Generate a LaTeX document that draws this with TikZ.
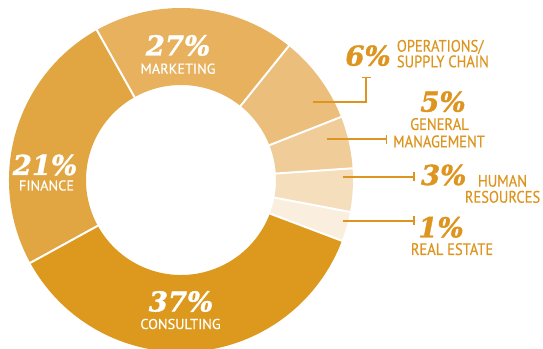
\documentclass[tikz,border=0pt]{standalone}
\usepackage{fontspec}
\usetikzlibrary{arrows.meta}
\newfontfamily\pctfont[FakeBold=1.2]{DejaVu Serif}
\newfontfamily\lblfont[FakeBold=0.4]{PT Sans}
\newfontfamily\olblfont[FakeStretch=0.87,FakeBold=0.4]{PT Sans}
\definecolor{consult}{HTML}{DC991D}
\definecolor{finance}{HTML}{E1A641}
\definecolor{market}{HTML}{E7B15D}
\definecolor{opsc}{HTML}{EBBE7C}
\definecolor{gmc}{HTML}{F0CC99}
\definecolor{hrc}{HTML}{F5DEBB}
\definecolor{rec}{HTML}{FAEEDF}
\definecolor{ink}{HTML}{DD9520}
\tikzset{
  pct/.style={inner sep=0pt, anchor=base, text depth=0pt, font=\pctfont\bfseries\itshape\fontsize{27.5}{27.5}\selectfont},
  inlbl/.style={inner sep=0pt, anchor=base, text depth=0pt, text=white, font=\lblfont\fontsize{14.3}{14.3}\selectfont},
  outlbl/.style={inner sep=0pt, anchor=base, text depth=0pt, text=ink, font=\olblfont\fontsize{16.7}{16.7}\selectfont},
  leader/.style={draw=ink, line width=1.7pt},
  barend/.style={leader, -{Bar[width=9pt,line width=1.7pt]}},
  gap/.style={draw=white, line width=2pt},
}
\newcommand{\ringseg}[3]{%
  \fill[#3] (#1:95pt) -- (#1:172pt) arc[start angle=#1, end angle=#2, radius=172pt]
    -- (#2:95pt) arc[start angle=#2, end angle=#1, radius=95pt] -- cycle;}
\begin{document}
\begin{tikzpicture}[x=1pt,y=1pt]
\useasboundingbox (0,0) rectangle (543,348);
\clip (0,0) rectangle (543,348);
\begin{scope}[shift={(181,168)}]
  \ringseg{51.2}{119.3}{market}
  \ringseg{119.3}{208.8}{finance}
  \ringseg{208.8}{339.3}{consult}
  \ringseg{339.3}{349.3}{rec}
  \ringseg{349.3}{363.9}{hrc}
  \ringseg{3.9}{21.5}{gmc}
  \ringseg{21.5}{51.2}{opsc}
  \foreach \a in {51.2,119.3,208.8,339.3,349.3,3.9,21.5}
    \draw[gap] (\a:93pt) -- (\a:175pt);
\end{scope}
% inner labels
\node[pct, text=white] (p27) at (178,292.5) {27\%};
\node[inlbl] (lmk) at (178,274.3) {MARKETING};
\node[pct, text=white] (p21) at (45,173) {21\%};
\node[inlbl] (lfi) at (46.5,157.5) {FINANCE};
\node[pct, text=white] (p37) at (181,36.5) {37\%};
\node[inlbl] (lco) at (180.5,19) {CONSULTING};
% outer labels
\node[pct, text=ink] (p6) at (368,282.3) {6\%};
\node[outlbl, anchor=base west] (lop1) at (396.7,296.3) {OPERATIONS/};
\node[outlbl, anchor=base west] (lop2) at (396.7,280.7) {SUPPLY CHAIN};
\node[pct, text=ink] (p5) at (443,236.3) {5\%};
\node[outlbl] (lgm1) at (439.5,218) {GENERAL};
\node[outlbl] (lgm2) at (439,200.7) {MANAGEMENT};
\node[pct, text=ink] (p3) at (443.7,163) {3\%};
\node[outlbl] (lhr1) at (502.5,161.3) {HUMAN};
\node[outlbl] (lhr2) at (502.5,145.3) {RESOURCES};
\node[pct, text=ink] (p1) at (441,110.7) {1\%};
\node[outlbl] (lre) at (452,93) {REAL ESTATE};
% leaders
\coordinate (sop) at (313,246.3);
\coordinate (eop) at (366,271.3);
\coordinate (sgm) at (326.7,208.7);
\coordinate (egm) at (387.3,208.7);
\coordinate (shr) at (342.7,171.3);
\coordinate (ehr) at (415,171.3);
\coordinate (sre) at (342.7,127.3);
\coordinate (ere) at (415,127.3);
\draw[barend] (sop) -| (eop);
\draw[barend] (sgm) -- (egm);
\draw[barend] (shr) -- (ehr);
\draw[barend] (sre) -- (ere);
\end{tikzpicture}
\end{document}
